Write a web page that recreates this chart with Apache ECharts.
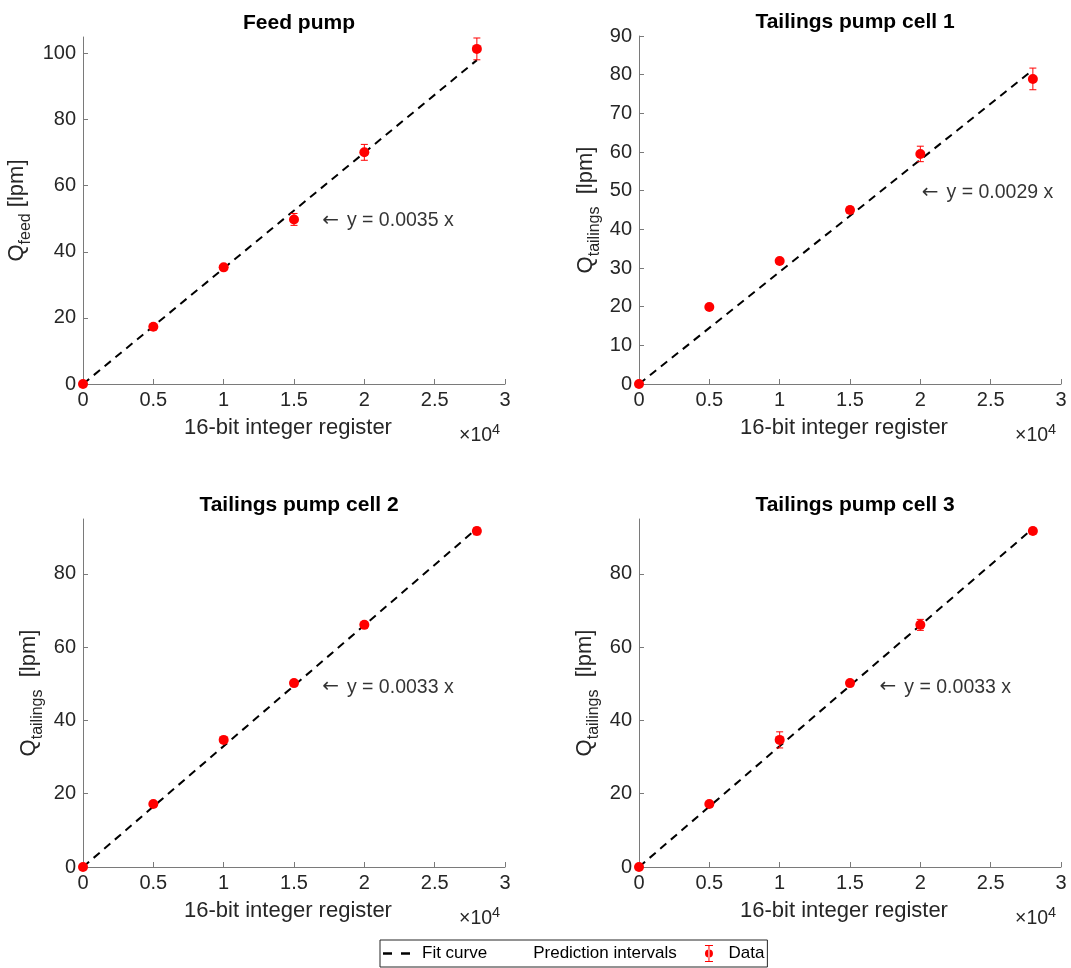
<!DOCTYPE html>
<html>
<head>
<meta charset="utf-8">
<script src="https://cdn.jsdelivr.net/npm/echarts@6/dist/echarts.min.js"></script>
<style>
    html, body { margin: 0; padding: 0; background: #fff; }
    #main { width: 1071px; height: 968px; }
</style>
</head>
<body>
<div id="main"></div>
<script>
// register value (x) and measured flow (y) per pump
var regX = [0, 5000, 10000, 15000, 20000, 28000];
var feedQ = [0, 17.3, 35.3, 49.8, 70.1, 101.4];
var feedErr = [0.4, 0.6, 0.8, 1.8, 2.4, 3.3];
var cell1Q = [0, 19.9, 31.8, 45.0, 59.5, 78.9];
var cell1Err = [0.4, 0.6, 0.7, 0.8, 2.0, 2.8];
var cell2Q = [0, 17.2, 34.7, 50.2, 66.1, 91.7];
var cell2Err = [0.4, 0.5, 0.6, 0.7, 0.8, 1.0];
var cell3Q = [0, 17.2, 34.7, 50.2, 66.1, 91.7];
var cell3Err = [0.4, 0.5, 2.2, 0.7, 1.5, 0.8];

// fit line end points
var fitX = [0, 28000];
var feedFit = [0, 98.0];
var cell1Fit = [0, 81.2];
var cell2Fit = [0, 92.4];
var cell3Fit = [0, 92.4];

// tick labels
var xTicks = [0, 5000, 10000, 15000, 20000, 25000, 30000];
var yTicks105 = [0, 20, 40, 60, 80, 100];
var yTicks90 = [0, 10, 20, 30, 40, 50, 60, 70, 80, 90];
var yTicks95 = [0, 20, 40, 60, 80];

var titles = ['Feed pump', 'Tailings pump cell 1', 'Tailings pump cell 2', 'Tailings pump cell 3'];
var fitLabels = ['y = 0.0035 x', 'y = 0.0029 x', 'y = 0.0033 x', 'y = 0.0033 x'];
var labelPos = [[17000, 49.5], [20100, 49.4], [17000, 49.1], [17100, 49.1]];

var chart = echarts.init(document.getElementById('main'));

var textColor = '#262626';
var axisColor = '#7a7a7a';
var font = 'Liberation Sans, Arial, Helvetica, sans-serif';

var panels = [
    { q: feedQ, err: feedErr, fit: feedFit, max: 105, ticks: yTicks105, sub: 'feed', gap: ' ', nameGap: 49 },
    { q: cell1Q, err: cell1Err, fit: cell1Fit, max: 90, ticks: yTicks90, sub: 'tailings', gap: '  ', nameGap: 36 },
    { q: cell2Q, err: cell2Err, fit: cell2Fit, max: 95, ticks: yTicks95, sub: 'tailings', gap: '  ', nameGap: 37 },
    { q: cell3Q, err: cell3Err, fit: cell3Fit, max: 95, ticks: yTicks95, sub: 'tailings', gap: '  ', nameGap: 37 }
];

var grids = [
    { left: 83, top: 37, width: 422, height: 347 },
    { left: 639, top: 36, width: 422, height: 348 },
    { left: 83, top: 519, width: 422, height: 348 },
    { left: 639, top: 519, width: 422, height: 348 }
];

function errRenderItem(params, api) {
    var x = api.value(0);
    var top = api.coord([x, api.value(2)]);
    var bot = api.coord([x, api.value(1)]);
    var w = 3.5;
    var st = { stroke: '#ff0000', lineWidth: 1 };
    return {
        type: 'group',
        children: [
            { type: 'line', shape: { x1: top[0], y1: top[1], x2: bot[0], y2: bot[1] }, style: st },
            { type: 'line', shape: { x1: top[0] - w, y1: top[1], x2: top[0] + w, y2: top[1] }, style: st },
            { type: 'line', shape: { x1: bot[0] - w, y1: bot[1], x2: bot[0] + w, y2: bot[1] }, style: st }
        ]
    };
}

var xAxes = [], yAxes = [], series = [], titleList = [], graphics = [];

panels.forEach(function(p, i) {
    var g = grids[i];

    titleList.push({
        text: titles[i],
        left: g.left + g.width / 2,
        top: g.top - 29,
        textAlign: 'center',
        textStyle: { fontSize: 21, fontWeight: 'bold', color: '#000', fontFamily: font }
    });

    xAxes.push({
        type: 'value',
        gridIndex: i,
        min: 0,
        max: 30000,
        name: '16-bit integer register',
        nameLocation: 'middle',
        nameGap: 33,
        nameTextStyle: { fontSize: 22, color: textColor, fontFamily: font, padding: [0, 12, 0, 0] },
        axisLine: { show: true, lineStyle: { color: axisColor, width: 1 } },
        axisTick: { show: true, inside: true, length: 5, customValues: xTicks, lineStyle: { color: axisColor } },
        axisLabel: {
            customValues: xTicks,
            fontSize: 20,
            color: textColor,
            fontFamily: font,
            margin: 6,
            formatter: function(v) { return String(v / 10000); }
        },
        splitLine: { show: false }
    });

    yAxes.push({
        type: 'value',
        gridIndex: i,
        min: 0,
        max: p.max,
        name: '{q|Q}{s|' + p.sub + '}' + p.gap + '{u|[lpm]}',
        nameLocation: 'middle',
        nameRotate: 90,
        nameGap: p.nameGap,
        nameTextStyle: {
            color: textColor,
            fontFamily: font,
            fontSize: 22,
            rich: {
                q: { fontSize: 22, lineHeight: 28, verticalAlign: 'top', color: textColor, fontFamily: font },
                s: { fontSize: 16, lineHeight: 16, verticalAlign: 'bottom', color: textColor, fontFamily: font },
                u: { fontSize: 22, lineHeight: 28, verticalAlign: 'top', color: textColor, fontFamily: font }
            }
        },
        axisLine: { show: true, lineStyle: { color: axisColor, width: 1 } },
        axisTick: { show: true, inside: true, length: 5, customValues: p.ticks, lineStyle: { color: axisColor } },
        axisLabel: { customValues: p.ticks, fontSize: 20, color: textColor, fontFamily: font, margin: 7 },
        splitLine: { show: false }
    });

    // fit curve
    series.push({
        name: 'Fit curve',
        type: 'line',
        xAxisIndex: i,
        yAxisIndex: i,
        symbol: 'none',
        data: fitX.map(function(x, k) { return [x, p.fit[k]]; }),
        lineStyle: { color: '#000', width: 2, type: [8, 6] },
        itemStyle: { color: '#000' },
        silent: true,
        z: 3
    });

    // empty series just for the legend entry
    series.push({
        name: 'Prediction intervals',
        type: 'line',
        xAxisIndex: i,
        yAxisIndex: i,
        symbol: 'none',
        data: [],
        lineStyle: { opacity: 0 },
        itemStyle: { color: '#000' }
    });

    series.push({
        name: 'Data',
        type: 'custom',
        xAxisIndex: i,
        yAxisIndex: i,
        renderItem: errRenderItem,
        data: regX.map(function(x, k) { return [x, p.q[k] - p.err[k], p.q[k] + p.err[k]]; }),
        itemStyle: { color: '#ff0000' },
        silent: true,
        z: 4
    });

    series.push({
        name: 'Data',
        type: 'scatter',
        xAxisIndex: i,
        yAxisIndex: i,
        symbol: 'circle',
        symbolSize: 10,
        data: regX.map(function(x, k) { return [x, p.q[k]]; }),
        itemStyle: { color: '#ff0000', opacity: 1 },
        silent: true,
        z: 5
    });

    // slope annotation
    series.push({
        name: 'note' + i,
        type: 'scatter',
        xAxisIndex: i,
        yAxisIndex: i,
        symbolSize: 0,
        data: [labelPos[i]],
        label: {
            show: true,
            position: 'right',
            distance: 0,
            formatter: '{ar|\u2190}{t|' + fitLabels[i] + '}',
            fontSize: 19.5,
            color: '#000',
            fontFamily: font,
            rich: {
                ar: { fontSize: 20, fontFamily: 'DejaVu Sans', color: '#000' },
                t: { fontSize: 19.5, fontFamily: font, color: '#000', padding: [0, 0, 0, 8] }
            }
        },
        silent: true
    });

    // x10^4 multiplier
    graphics.push({
        type: 'text',
        left: g.left + g.width - 46,
        top: g.top + g.height + 38,
        style: {
            text: '{a|\u00d710}{b|4}',
            rich: {
                a: { fontSize: 19.5, lineHeight: 24, verticalAlign: 'bottom', fill: textColor, fontFamily: font },
                b: { fontSize: 14.5, lineHeight: 14, verticalAlign: 'top', fill: textColor, fontFamily: font }
            }
        }
    });
});

var option = {
    animation: false,
    textStyle: { fontFamily: font },
    title: titleList,
    grid: grids.map(function(g) {
        return { left: g.left, top: g.top, width: g.width, height: g.height, containLabel: false };
    }),
    xAxis: xAxes,
    yAxis: yAxes,
    legend: {
        left: 380,
        top: 940,
        padding: [5, 3, 5, 3],
        itemGap: 14,
        itemWidth: 27,
        itemHeight: 17,
        borderColor: '#262626',
        borderWidth: 1,
        backgroundColor: '#fff',
        textStyle: {
            fontSize: 17,
            color: '#000',
            fontFamily: font,
            rich: {
                l: { fontSize: 17, color: '#000', fontFamily: font, padding: [0, 0, 0, 7] },
                r: { fontSize: 17, color: '#000', fontFamily: font },
                sp: { fontSize: 17 },
                d: { fontSize: 17, color: '#000', fontFamily: font, padding: [0, 0, 0, 1] }
            }
        },
        formatter: function(name) {
            if (name === 'Fit curve') return '{l|' + name + '}';
            if (name === 'Prediction intervals') return '{r|' + name + '}{sp|\u00a0\u00a0\u00a0}';
            return '{d|' + name + '}';
        },
        data: [
            { name: 'Fit curve', icon: 'path://M0,0h9v2.4h-9z M18,0h9v2.4h-9z', itemStyle: { color: '#000' } },
            { name: 'Prediction intervals', icon: 'none' },
            { name: 'Data', icon: 'path://M0,0h8v1h-8z M3.5,1h1v15h-1z M0,16h8v1h-8z M4,4.5a4,4 0 1,0 0.001,0z', itemStyle: { color: '#ff0000' } }
        ]
    },
    graphic: graphics,
    series: series
};

chart.setOption(option);
</script>
</body>
</html>
